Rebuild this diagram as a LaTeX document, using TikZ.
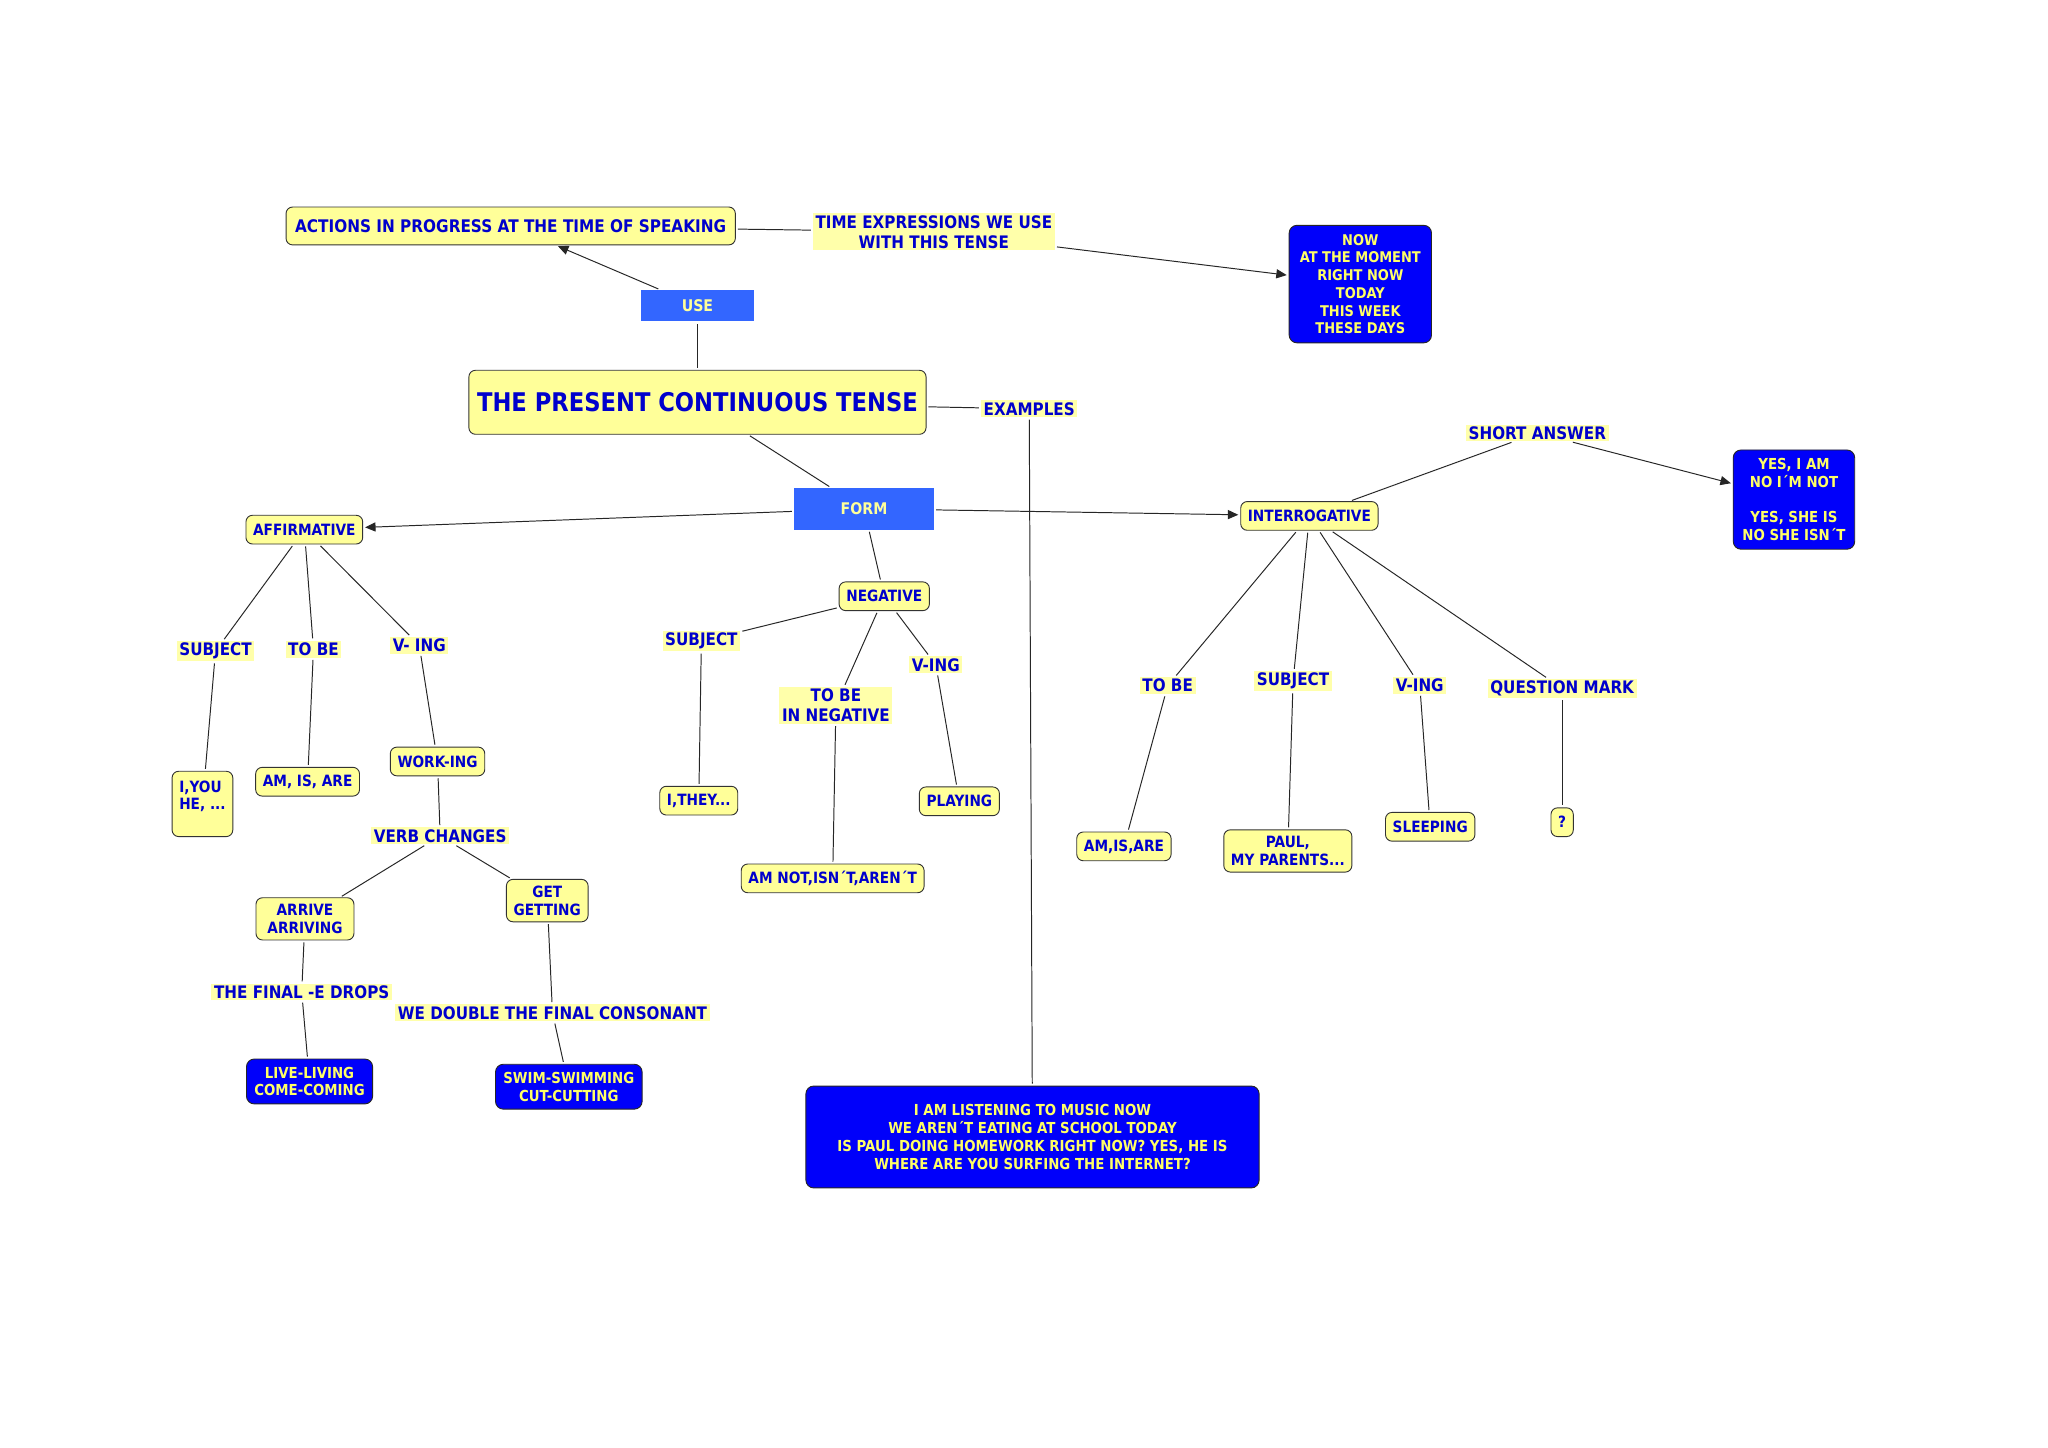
\documentclass[tikz,border=0pt]{standalone}
\usepackage{fontspec}
\newfontfamily\mapfont{DejaVu Sans}[FakeStretch=0.88]
\usetikzlibrary{positioning,arrows.meta}

\definecolor{conceptyellow}{RGB}{255,255,153}
\definecolor{linkyellow}{RGB}{255,255,170}
\definecolor{mapblue}{RGB}{0,0,204}
\definecolor{boxblue}{RGB}{0,0,250}
\definecolor{tabblue}{RGB}{51,102,255}
\definecolor{textyellow}{RGB}{255,255,102}

\tikzset{
  concept/.style={draw=black!80, line width=0.7pt, fill=conceptyellow, text=mapblue,
    rounded corners=5pt, align=center, inner xsep=5.5pt, inner ysep=5pt,
    minimum height=22pt, font=\mapfont\bfseries\fontsize{11.9}{13.5}\selectfont},
  bluebox/.style={concept, fill=boxblue, draw=black!85, text=textyellow,
    rounded corners=6pt, inner xsep=6pt, inner ysep=6pt,
    font=\mapfont\bfseries\fontsize{11.6}{13.6}\selectfont},
  tabbox/.style={fill=tabblue, text=conceptyellow, inner sep=0pt,
    font=\mapfont\bfseries\fontsize{12.3}{14}\selectfont},
  phrase/.style={fill=linkyellow, text=mapblue, align=center, inner xsep=2pt,
    inner ysep=1.5pt, font=\mapfont\bfseries\fontsize{13.2}{15.3}\selectfont},
  conn/.style={draw=black!85, line width=0.75pt, shorten <=1.5pt, shorten >=1.5pt},
  arrowconn/.style={conn, -{Triangle[length=8pt,width=7pt]}},
}

\begin{document}
\begin{tikzpicture}[x=1pt, y=-1pt, on grid]
\fill[white] (0,0) rectangle (1568,1108);
\useasboundingbox (0,0) rectangle (1568,1108);

% centre of the map
\node[concept, minimum width=350pt, minimum height=49pt,
  font=\mapfont\bfseries\fontsize{19.7}{22}\selectfont] (present) at (534,308) {THE PRESENT CONTINUOUS TENSE};
\node[tabbox, minimum width=87pt, minimum height=24pt, above=74pt of present] (use) {USE};
\node[concept, minimum width=344pt, minimum height=29pt,
  font=\mapfont\bfseries\fontsize{13.3}{15}\selectfont] (actions) at (391,173) {ACTIONS IN PROGRESS AT THE TIME OF SPEAKING};
\node[phrase] (timeexp) at (715,177.5) {TIME EXPRESSIONS WE USE\\WITH THIS TENSE};
\node[bluebox, minimum width=109pt, minimum height=90pt,
  font=\mapfont\bfseries\fontsize{11.3}{13.6}\selectfont] (nowbox) at (1041.5,217.5) {NOW\\AT THE MOMENT\\RIGHT NOW\\TODAY\\THIS WEEK\\THESE DAYS};
\node[phrase] (examples) at (788,313) {EXAMPLES};
\node[bluebox, minimum width=347pt, minimum height=78pt] (exbox) at (790.5,870.5) {I AM LISTENING TO MUSIC NOW\\WE AREN´T EATING AT SCHOOL TODAY\\IS PAUL DOING HOMEWORK RIGHT NOW? YES, HE IS\\WHERE ARE YOU SURFING THE INTERNET?};
\node[tabbox, minimum width=107pt, minimum height=32pt] (form) at (661.5,389.5) {FORM};

% the three forms
\node[concept] (affirm) at (233,405.5) {AFFIRMATIVE};
\node[concept, below right=67pt and 15.5pt of form] (negative) {NEGATIVE};
\node[concept] (interrog) at (1002.5,395) {INTERROGATIVE};
\node[phrase] (shortans) at (1177,331.5) {SHORT ANSWER};
\node[bluebox, minimum width=93pt, minimum height=76pt] (yesbox) at (1373.5,382.5) {YES, I AM\\NO I´M NOT\\[13.6pt]YES, SHE IS\\NO SHE ISN´T};

% affirmative
\node[phrase, below left=93pt and 68pt of affirm] (asubj) {SUBJECT};
\node[phrase, below right=91.5pt and 7pt of affirm] (atobe) {TO BE};
\node[phrase, below right=88.5pt and 88pt of affirm] (aving) {V- ING};
\node[concept, align=left, minimum height=50pt, below left=117pt and 10pt of asubj] (iyou) {I,YOU\\HE, ...\\\phantom{I}};
\node[concept, below left=101.5pt and 4.5pt of atobe] (amisare) {AM, IS, ARE};
\node[concept, below right=89pt and 14pt of aving] (working) {WORK-ING};
\node[phrase, below right=57pt and 2pt of working] (verbchg) {VERB CHANGES};
\node[concept, minimum width=75pt, below left=63.5pt and 103.5pt of verbchg] (arrive) {ARRIVE\\ARRIVING};
\node[concept, below right=49.5pt and 82pt of verbchg] (get) {GET\\GETTING};
\node[phrase, below left=56pt and 2.5pt of arrive] (edrops) {THE FINAL -E DROPS};
\node[phrase, below right=86pt and 4pt of get] (double) {WE DOUBLE THE FINAL CONSONANT};
\node[bluebox, below right=68.5pt and 6pt of edrops] (livebox) {LIVE-LIVING\\COME-COMING};
\node[bluebox, below right=56.5pt and 12.5pt of double] (swimbox) {SWIM-SWIMMING\\CUT-CUTTING};

% negative
\node[phrase, below left=34.5pt and 140pt of negative] (nsubj) {SUBJECT};
\node[phrase, below left=83.5pt and 37pt of negative] (ntobe) {TO BE\\IN NEGATIVE};
\node[phrase, below right=52.5pt and 39.5pt of negative] (nving) {V-ING};
\node[concept, below left=122pt and 2pt of nsubj] (ithey) {I,THEY...};
\node[concept, below left=132.5pt and 2.5pt of ntobe] (amnot) {AM NOT,ISN´T,AREN´T};
\node[concept, below right=104.5pt and 18pt of nving] (playing) {PLAYING};

% interrogative
\node[phrase, below left=130pt and 108.5pt of interrog] (itobe) {TO BE};
\node[phrase, below left=126.5pt and 12.5pt of interrog] (isubj) {SUBJECT};
\node[phrase, below right=129.5pt and 84.5pt of interrog] (iving) {V-ING};
\node[phrase, below right=132pt and 193.5pt of interrog] (qmark) {QUESTION MARK};
\node[concept, below left=123pt and 33.5pt of itobe] (amisareq) {AM,IS,ARE};
\node[concept, below left=130pt and 4pt of isubj] (paul) {PAUL,\\MY PARENTS...};
\node[concept, below right=108.5pt and 8pt of iving] (sleeping) {SLEEPING};
\node[concept, below=102.5pt of qmark] (qbox) {?};

% connectors
\draw[arrowconn] (use) -- (actions);
\draw[conn] (present) -- (use);
\draw[conn] (actions) -- (timeexp);
\draw[arrowconn] (timeexp) -- (nowbox);
\draw[conn] (present) -- (examples);
\draw[conn] (examples) -- (exbox);
\draw[conn] (present) -- (form);
\draw[arrowconn] (form) -- (affirm);
\draw[arrowconn] (form) -- (interrog);
\draw[conn] (form) -- (negative);
\draw[conn] (interrog) -- (shortans);
\draw[arrowconn] (shortans) -- (yesbox);

\foreach \from/\to in {affirm/asubj, affirm/atobe, affirm/aving, asubj/iyou,
  atobe/amisare, aving/working, working/verbchg, verbchg/arrive, verbchg/get,
  arrive/edrops, edrops/livebox, get/double, double/swimbox,
  negative/nsubj, negative/ntobe, negative/nving, nsubj/ithey, ntobe/amnot,
  nving/playing, interrog/itobe, interrog/isubj, interrog/iving, interrog/qmark,
  itobe/amisareq, isubj/paul, iving/sleeping, qmark/qbox}
  \draw[conn] (\from) -- (\to);
\end{tikzpicture}
\end{document}
